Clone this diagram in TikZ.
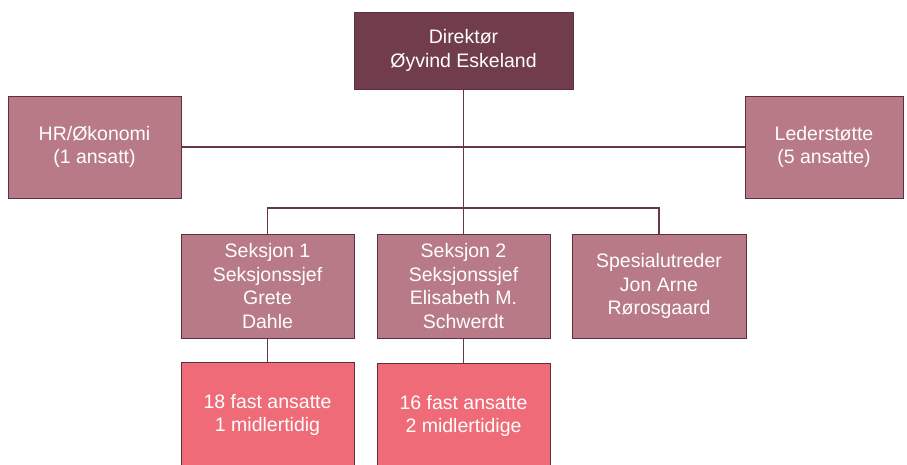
\documentclass[tikz,border=0pt]{standalone}
\usepackage{fontspec}
\setmainfont{Liberation Sans}
\definecolor{dirfill}{HTML}{713C4B}
\definecolor{midfill}{HTML}{B87A87}
\definecolor{lowfill}{HTML}{EE6B77}
\definecolor{edge}{HTML}{5E2F3C}
\definecolor{conn}{HTML}{6B3544}
\tikzset{
  box/.style={draw=edge, line width=0.9pt, rectangle, text=white, align=center, inner sep=0pt,
    font=\fontsize{19.5}{23.5}\selectfont},
  link/.style={draw=conn, line width=1.3pt}
}
\begin{document}
\begin{tikzpicture}[x=1pt,y=1pt]
\clip (0,0) rectangle (907,-464);
\fill[white] (0,0) rectangle (907,-464);
\node[box, fill=dirfill, minimum width=219pt, minimum height=77pt] (dir) at (463.5,-50.5) {Direktør\\Øyvind Eskeland};
\node[box, fill=midfill, minimum width=173pt, minimum height=102pt] (hr) at (94.5,-147) {HR/Økonomi\\(1 ansatt)};
\node[box, fill=midfill, minimum width=158pt, minimum height=102pt] (led) at (824,-147) {Lederstøtte\\(5 ansatte)};
\node[box, fill=midfill, minimum width=173pt, minimum height=104pt] (s1) at (267.5,-286) {Seksjon 1\\Seksjonssjef\\Grete\\Dahle};
\node[box, fill=midfill, minimum width=173pt, minimum height=104pt] (s2) at (463.5,-286) {Seksjon 2\\Seksjonssjef\\Elisabeth M.\\Schwerdt};
\node[box, fill=midfill, minimum width=174pt, minimum height=104pt] (sp) at (659,-286) {Spesialutreder\\Jon Arne\\Rørosgaard};
\node[box, fill=lowfill, minimum width=173pt, minimum height=106pt] (b1) at (267.5,-415) {18 fast ansatte\\1 midlertidig};
\node[box, fill=lowfill, minimum width=173pt, minimum height=106pt] (b2) at (463.5,-416) {16 fast ansatte\\2 midlertidige};
\coordinate (fork) at (463.5,-208);
\draw[link] (hr.east) -- (led.west);
\draw[link] (dir.south) -- (fork);
\draw[link] (s1.north) |- (fork) -| (sp.north);
\draw[link] (s2.north) -- (fork);
\draw[link] (s1.south) -- (b1.north);
\draw[link] (s2.south) -- (b2.north);
\end{tikzpicture}
\end{document}
